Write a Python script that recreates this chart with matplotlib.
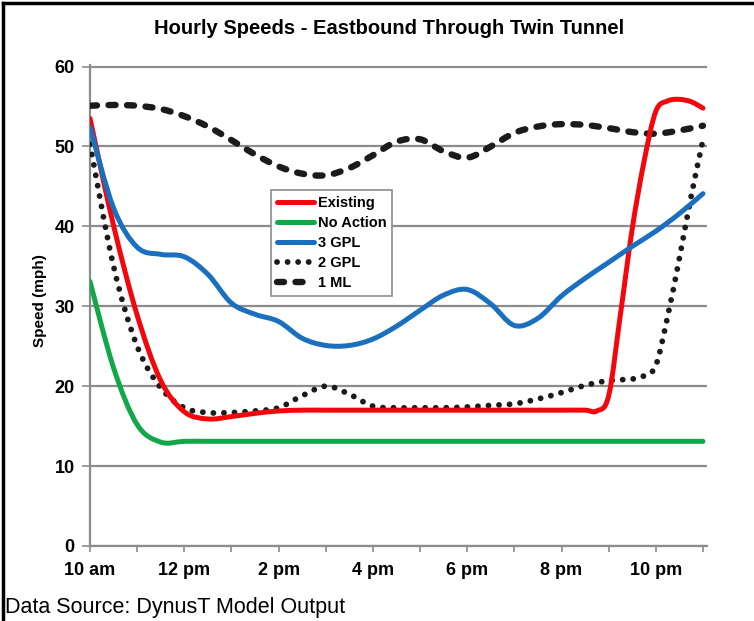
import numpy as np
import matplotlib
matplotlib.use("Agg")
import matplotlib.pyplot as plt
from matplotlib.path import Path
from matplotlib.patches import PathPatch
from matplotlib.lines import Line2D

FONT = ['Liberation Sans', 'DejaVu Sans']
plt.rcParams['font.family'] = FONT

# datos: horas (cada media hora) y velocidad (mph)
horas = [10.0, 10.5, 11.0, 11.5, 12.0, 12.5, 13.0, 13.5, 14.0, 14.5, 15.0, 15.5, 16.0, 16.5,
         17.0, 17.5, 18.0, 18.5, 19.0, 19.5, 20.0, 20.5, 21.0, 21.5, 22.0, 22.5, 23.0]

# Existing tiene lecturas cada cuarto de hora al final
horas_existing = [10.0, 10.5, 11.0, 11.5, 12.0, 12.5, 13.0, 13.5, 14.0, 14.5, 15.0, 15.5, 16.0,
                  16.5, 17.0, 17.5, 18.0, 18.5, 19.0, 19.5, 20.0, 20.5, 20.75, 21.0, 21.25,
                  21.5, 21.75, 22.0, 22.25, 22.5, 22.75, 23.0]
existing = [53.5, 40.1, 28.9, 20.7, 16.8, 15.9, 16.2, 16.6, 16.9, 17.0, 17.0, 17.0, 17.0,
            17.0, 17.0, 17.0, 17.0, 17.0, 17.0, 17.0, 17.0, 17.0, 16.9, 18.8, 29.0,
            39.7, 48.1, 54.4, 55.7, 55.9, 55.6, 54.8]

no_action = [33.1, 22.3, 15.2, 13.0, 13.1, 13.1, 13.1, 13.1, 13.1, 13.1, 13.1, 13.1, 13.1, 13.1,
             13.1, 13.1, 13.1, 13.1, 13.1, 13.1, 13.1, 13.1, 13.1, 13.1, 13.1, 13.1, 13.1]
gpl3 = [52.4, 42.3, 37.4, 36.5, 36.2, 34.0, 30.4, 29.0, 28.1, 26.0, 25.1, 25.1, 25.9, 27.5,
        29.5, 31.4, 32.1, 30.3, 27.6, 28.5, 31.3, 33.5, 35.5, 37.5, 39.4, 41.6, 44.1]

horas_gpl2 = [10.0, 10.5, 11.0, 11.5, 12.0, 12.5, 13.0, 13.5, 14.0, 14.5, 15.0, 15.5, 16.0,
              16.5, 17.0, 17.5, 18.0, 18.5, 19.0, 19.5, 20.0, 20.5, 21.0, 21.5, 21.75,
              22.0, 22.25, 22.5, 22.75, 23.0]
gpl2 = [50.3, 35.0, 25.0, 19.8, 17.3, 16.7, 16.7, 16.9, 17.3, 18.8, 20.0, 19.0, 17.5,
        17.3, 17.3, 17.3, 17.4, 17.6, 17.8, 18.4, 19.2, 20.1, 20.7, 20.9, 21.3,
        22.6, 28.7, 36.0, 43.8, 50.8]

ml1 = [55.1, 55.2, 55.1, 54.7, 53.8, 52.5, 50.8, 49.0, 47.5, 46.6, 46.4, 47.3, 48.9, 50.6,
       50.9, 49.4, 48.6, 50.0, 51.7, 52.5, 52.8, 52.7, 52.3, 51.8, 51.6, 52.0, 52.6]

series = ['Existing', 'No Action', '3 GPL', '2 GPL', '1 ML']
xs = [horas_existing, horas, horas, horas_gpl2, horas]
valores = [existing, no_action, gpl3, gpl2, ml1]
colores = ['#f2080c', '#12a84a', '#1a6fbf', '#1c1a1b', '#1c1a1b']

tick_pos = [10, 12, 14, 16, 18, 20, 22]
tick_lab = ['10 am', '12 pm', '2 pm', '4 pm', '6 pm', '8 pm', '10 pm']


def curva(x, y):
    # linea suavizada tipo Excel (Catmull-Rom -> Bezier)
    p = np.column_stack([x, y])
    e = np.vstack([p[0], p, p[-1]])
    verts = [p[0]]
    codes = [Path.MOVETO]
    for i in range(len(p) - 1):
        p0, p1, p2, p3 = e[i], e[i + 1], e[i + 2], e[i + 3]
        verts += [p1 + (p2 - p0) / 6, p2 - (p3 - p1) / 6, p2]
        codes += [Path.CURVE4] * 3
    return Path(verts, codes)


estilos = [
    dict(lw=3.6, ls='-'),
    dict(lw=3.6, ls='-'),
    dict(lw=3.6, ls='-'),
    dict(lw=4.2, ls=(0, (0.01, 1.8))),
    dict(lw=4.6, ls=(0, (1.1, 1.8))),
]

fig = plt.figure(figsize=(7.54, 6.21), dpi=100)
ax = fig.add_axes([90 / 754, 75 / 621, 617 / 754, 481 / 621])

orden = [3, 4, 0, 1, 2]
for i in orden:
    pp = PathPatch(curva(xs[i], valores[i]), fill=False, edgecolor=colores[i],
                   lw=estilos[i]['lw'], linestyle=estilos[i]['ls'],
                   capstyle='round', joinstyle='round', zorder=3)
    ax.add_patch(pp)

ax.set_xlim(10, 10 + 617 / 47.15)
ax.set_ylim(0, 60.2)
ax.set_yticks(range(0, 61, 10))
ax.set_xticks(tick_pos)
ax.set_xticklabels(tick_lab)
ax.set_xticks(range(11, 24, 2), minor=True)

gris = '#8c8c8c'
for s in ['top', 'right']:
    ax.spines[s].set_visible(False)
for s in ['left', 'bottom']:
    ax.spines[s].set_color(gris)
    ax.spines[s].set_linewidth(1.6)
ax.yaxis.grid(True, color=gris, lw=1.6)
ax.set_axisbelow(True)
ax.tick_params(axis='y', length=6, width=1.2, color=gris, pad=5, labelsize=13)
ax.tick_params(axis='x', which='both', length=4.5, width=1.2, color=gris, pad=7, labelsize=13)
for t in ax.get_xticklabels() + ax.get_yticklabels():
    t.set_fontweight('bold')

handles = [Line2D([], [], color=colores[i], lw=estilos[i]['lw'], linestyle=estilos[i]['ls'],
                  dash_capstyle='round', solid_capstyle='round') for i in range(5)]
leg = ax.legend(handles, series, loc='center', bbox_to_anchor=(0.392, 0.63),
                frameon=True, fancybox=False, framealpha=1, edgecolor=gris,
                prop=dict(family=FONT, weight='bold', size=10.5),
                handlelength=2.5, handletextpad=0.3, labelspacing=0.42,
                borderpad=0.4, borderaxespad=0)
leg.get_frame().set_linewidth(1.2)

fig.text(389 / 754, 1 - 28 / 621, 'Hourly Speeds - Eastbound Through Twin Tunnel',
         ha='center', va='center', fontsize=14.5, fontweight='bold')
fig.text(40 / 754, 1 - 301 / 621, 'Speed (mph)', rotation=90, ha='center', va='center',
         fontsize=11, fontweight='bold')
fig.text(5 / 754, 1 - 608 / 621, 'Data Source: DynusT Model Output',
         ha='left', va='center', fontsize=15.5)

# marco negro arriba e izquierda
fig.add_artist(Line2D([3 / 754, 3 / 754], [0, 1 - 3 / 621], color='black', lw=2.5,
                      transform=fig.transFigure))
fig.add_artist(Line2D([3 / 754, 1], [1 - 3 / 621, 1 - 3 / 621], color='black', lw=2.5,
                      transform=fig.transFigure))

fig.savefig('out.png', dpi=100)
